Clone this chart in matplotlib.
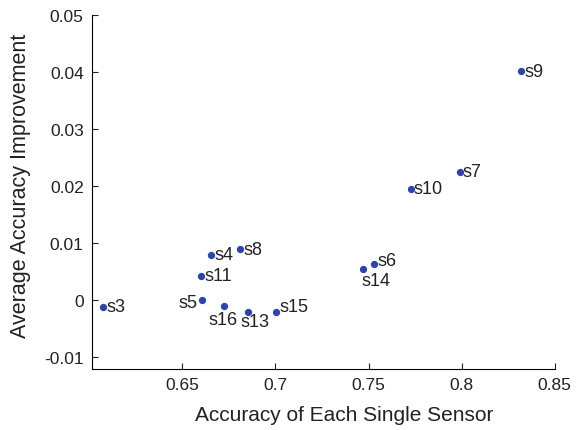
import matplotlib.pyplot as plt

plt.rcParams['font.family'] = ['Liberation Sans', 'DejaVu Sans']

# per-sensor accuracy and average improvement
sensors = ['s3', 's4', 's5', 's6', 's7', 's8', 's9', 's10', 's11', 's13', 's14', 's15', 's16']
accuracy = [0.6075, 0.6654, 0.6608, 0.7527, 0.799, 0.6812, 0.832, 0.7726, 0.6602, 0.6855, 0.7468, 0.7005, 0.6726]
improvement = [-0.0012, 0.0079, 0.0, 0.0063, 0.0225, 0.0089, 0.0401, 0.0195, 0.0042, -0.0021, 0.0054, -0.0021, -0.0011]

# label placement: offset in pixels and horizontal alignment
offsets = {
    's5': ((-5, -3), 'right'),
    's16': ((-16, -13), 'left'),
    's13': ((-8, -10), 'left'),
    's14': ((-1, -11), 'left'),
    's6': ((4, 3), 'left'),
    's15': ((3, 5), 'left'),
}

fig, ax = plt.subplots(figsize=(5.79, 4.31), dpi=100)
fig.subplots_adjust(left=0.159, right=0.958, top=0.963, bottom=0.142)

ax.scatter(accuracy, improvement, s=18, color='#2e45a6', zorder=3)
for name, x, y in zip(sensors, accuracy, improvement):
    off, ha = offsets.get(name, ((3, 0), 'left'))
    ax.annotate(name, (x, y), xytext=off, textcoords='offset pixels',
                ha=ha, va='center', fontsize=13, color='#222222')

ax.set_xlim(0.6015, 0.85)
ax.set_ylim(-0.0121, 0.05)
ax.set_xticks([0.65, 0.7, 0.75, 0.8, 0.85])
ax.set_xticklabels(['0.65', '0.7', '0.75', '0.8', '0.85'])
ax.set_yticks([-0.01, 0, 0.01, 0.02, 0.03, 0.04, 0.05])
ax.set_yticklabels(['-0.01', '0', '0.01', '0.02', '0.03', '0.04', '0.05'])
ax.tick_params(direction='in', length=4, labelsize=12.5, colors='#222222', pad=6)
ax.spines['top'].set_visible(False)
ax.spines['right'].set_visible(False)
ax.set_xlabel('Accuracy of Each Single Sensor', fontsize=15, color='#222222')
ax.set_ylabel('Average Accuracy Improvement', fontsize=15.5, color='#222222')
ax.xaxis.set_label_coords(0.546, -0.102)
ax.yaxis.set_label_coords(-0.131, 0.52)

fig.savefig('out.png', dpi=100)
